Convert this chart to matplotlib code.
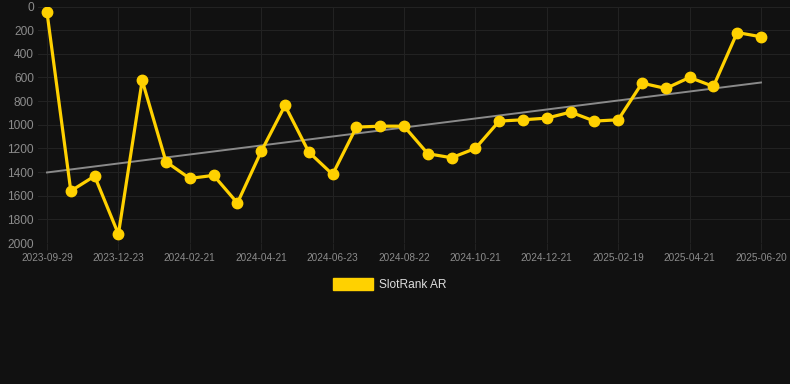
import numpy as np
import matplotlib.pyplot as plt

# SlotRank AR values, one point per sample (y axis is inverted)
rank = [50, 1560, 1434, 1925, 625, 1313, 1454, 1428, 1662, 1226, 837,
        1231, 1420, 1020, 1012, 1012, 1245, 1279, 1200, 969, 958,
        944, 893, 969, 958, 648, 693, 600, 676, 220, 256]
tick_labels = ['2023-09-29', '2023-12-23', '2024-02-21', '2024-04-21',
               '2024-06-23', '2024-08-22', '2024-10-21', '2024-12-21',
               '2025-02-19', '2025-04-21', '2025-06-20']
tick_step = 3

bg = '#111111'
gold = '#FFD100'
plt.rcParams['font.family'] = ['Liberation Sans', 'DejaVu Sans']

x = np.arange(len(rank))
# linear trend line
k, b = np.polyfit(x, rank, 1)

fig = plt.figure(figsize=(7.9, 3.84), dpi=100, facecolor=bg)
ax = fig.add_axes([38 / 790, 141 / 384, 752 / 790, 236.5 / 384], facecolor=bg)

ax.plot(x, k * x + b, color='#8a8a8a', lw=1.4, zorder=2)
ax.plot(x, rank, color=gold, lw=2.3, marker='o', ms=7.5, zorder=3,
        solid_joinstyle='round')

ax.set_xlim(-9 / 23.8, 30 + 29 / 23.8)
ax.set_ylim(2000, 0)
ax.set_yticks(np.arange(0, 2001, 200))
ax.set_xticks(x[::tick_step])
ax.set_xticklabels(tick_labels)
ax.grid(True, color='#222222', lw=0.8)
ax.set_axisbelow(True)
for s in ax.spines.values():
    s.set_visible(False)
ax.tick_params(axis='y', length=0, pad=3, labelsize=8.6, labelcolor='#8c8c8c')
ax.tick_params(axis='x', length=5, width=0.8, color='#222222', pad=2,
               labelsize=7.2, labelcolor='#8c8c8c')

# legend below the chart
fig.patches.append(plt.Rectangle((333 / 790, 1 - 290 / 384), 40 / 790, 12 / 384,
                                 transform=fig.transFigure, color=gold))
fig.text(379 / 790, 1 - 285 / 384, 'SlotRank AR', color='#dddddd', fontsize=8.6,
         va='center', ha='left')

fig.savefig('out.png', dpi=100, facecolor=bg)
